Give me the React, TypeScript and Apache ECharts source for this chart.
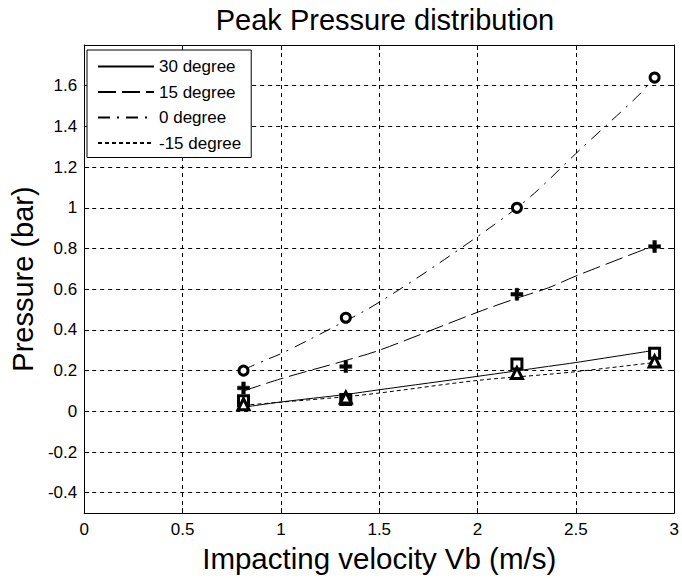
import React, { useEffect, useRef } from "react";
import * as echarts from "echarts";

const titleText = "Peak Pressure distribution";
const xName = "Impacting velocity Vb (m/s)";
const yName = "Pressure (bar)";

const yTicks = [-0.4, -0.2, 0, 0.2, 0.4, 0.6, 0.8, 1, 1.2, 1.4, 1.6];
const seriesNames = ["30 degree", "15 degree", "0 degree", "-15 degree"];

// measured points (markers)
const markerX = [0.81, 1.33, 2.2, 2.9];
const pts30 = [0.052, 0.058, 0.232, 0.285];
const pts15 = [0.115, 0.22, 0.575, 0.81];
const pts0 = [0.2, 0.46, 1.0, 1.64];
const ptsM15 = [0.035, 0.068, 0.188, 0.245];

// fitted curves
const fit30: number[][] = [[0.81, 0.02], [1.0, 0.046], [1.33, 0.083], [1.5, 0.106], [2.0, 0.172], [2.36, 0.221], [2.5, 0.24], [2.9, 0.3]];
const fit15: number[][] = [[0.81, 0.1], [1.0, 0.16], [1.33, 0.25], [1.5, 0.3], [2.0, 0.487], [2.2, 0.556], [2.36, 0.607], [2.5, 0.665], [2.9, 0.815]];
const fit0: number[][] = [[0.81, 0.205], [0.93, 0.255], [1.0, 0.283], [1.15, 0.355], [1.25, 0.405], [1.43, 0.496], [1.6, 0.597], [1.8, 0.725], [2.06, 0.9], [2.2, 1.0], [2.31, 1.09], [2.52, 1.285], [2.66, 1.41], [2.81, 1.545], [2.9, 1.64]];
const fitM15: number[][] = [[0.81, 0.03], [1.0, 0.045], [1.33, 0.072], [1.5, 0.09], [2.0, 0.152], [2.36, 0.182], [2.5, 0.195], [2.9, 0.24]];

const FONT = "'Liberation Sans', Arial, sans-serif";

export default function App() {
  const ref = useRef<HTMLDivElement>(null);
  useEffect(() => {
    document.body.style.margin = "0";
    const chart = echarts.init(ref.current!, null, { renderer: "svg" });
    const lineCommon = (name: string, data: number[][], type: any) => ({
      name,
      type: "line",
      data,
      symbol: "none",
      showSymbol: false,
      smooth: 0.3,
      lineStyle: { color: "#000", width: 1, type },
      itemStyle: { color: "#000" },
      z: 3,
    });
    const scatter = (name: string, ys: number[], symbol: string, size: number, filled: boolean) => ({
      name,
      type: "scatter",
      data: markerX.map((x, i) => [x, ys[i]]),
      symbol,
      symbolSize: size,
      itemStyle: filled
        ? { color: "#000", borderColor: "#000", borderWidth: 0.5, opacity: 1 }
        : { color: "#fff", borderColor: "#000", borderWidth: 3, opacity: 1 },
      z: 5,
    });
    const xAxisCommon = {
      type: "value",
      min: 0,
      max: 3,
      interval: 0.5,
      axisLine: { show: true, onZero: false, lineStyle: { color: "#000", width: 1 } },
      axisTick: { show: true, inside: true, length: 5, lineStyle: { color: "#000" } },
    };
    const yAxisCommon = {
      type: "value",
      min: -0.5,
      max: 1.8,
      axisLine: { show: true, onZero: false, lineStyle: { color: "#000", width: 1 } },
      axisTick: { show: true, inside: true, length: 5, customValues: yTicks, lineStyle: { color: "#000" } },
    };
    chart.setOption({
      animation: false,
      backgroundColor: "#fff",
      textStyle: { fontFamily: FONT },
      title: {
        text: titleText,
        left: 380,
        top: 0,
        textAlign: "center",
        textStyle: { fontFamily: FONT, fontSize: 29, fontWeight: "normal", color: "#000" },
      },
      grid: { left: 78, right: 5, top: 45, bottom: 64, containLabel: false },
      legend: {
        orient: "vertical",
        left: 87,
        top: 50,
        data: seriesNames,
        itemWidth: 56,
        itemHeight: 14,
        itemGap: 8.5,
        padding: [8, 10, 6, 10],
        borderColor: "#000",
        borderWidth: 1,
        backgroundColor: "#fff",
        itemStyle: { opacity: 0 },
        textStyle: { fontFamily: FONT, fontSize: 17, color: "#000", lineHeight: 17 },
      },
      xAxis: [
        {
          ...xAxisCommon,
          position: "bottom",
          name: xName,
          nameLocation: "middle",
          nameGap: 27,
          nameTextStyle: { fontFamily: FONT, fontSize: 29.5, color: "#000" },
          axisLabel: { show: true, color: "#000", fontSize: 17, margin: 8, fontFamily: FONT },
          splitLine: { show: true, lineStyle: { color: "#000", width: 1, type: [4, 4] } },
        },
        {
          ...xAxisCommon,
          position: "top",
          axisLabel: { show: false },
          splitLine: { show: false },
        },
      ],
      yAxis: [
        {
          ...yAxisCommon,
          position: "left",
          name: yName,
          nameLocation: "middle",
          nameGap: 46,
          nameTextStyle: { fontFamily: FONT, fontSize: 29, color: "#000" },
          axisLabel: {
            show: true,
            customValues: yTicks,
            color: "#000",
            fontSize: 17,
            margin: 7,
            fontFamily: FONT,
            formatter: (v: number) => String(+v.toFixed(1)),
          },
          splitLine: { show: true, lineStyle: { color: "#000", width: 1, type: [4, 4] } },
        },
        {
          ...yAxisCommon,
          position: "right",
          axisLabel: { show: false },
          splitLine: { show: false },
        },
      ],
      series: [
        lineCommon(seriesNames[0], fit30, "solid"),
        lineCommon(seriesNames[1], fit15, [18, 6]),
        lineCommon(seriesNames[2], fit0, [12, 7, 2, 7]),
        lineCommon(seriesNames[3], fitM15, [4, 3]),
        scatter("pts30", pts30, "rect", 10, false),
        scatter("pts15", pts15, "path://M35,0H65V35H100V65H65V100H35V65H0V35H35Z", 12, true),
        scatter("pts0", pts0, "circle", 9, false),
        scatter("ptsM15", ptsM15, "triangle", 11, false),
      ],
    });
    return () => chart.dispose();
  }, []);
  return <div ref={ref} style={{ position: "absolute", left: 0, top: 0, width: 682, height: 578 }} />;
}
